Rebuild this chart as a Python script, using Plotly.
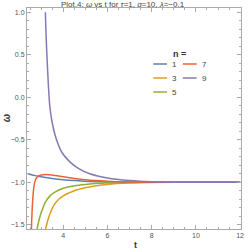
import plotly.graph_objects as go

# n = 1
t1 = [2.40, 2.6, 2.8, 3.0, 3.2, 3.5, 4.0, 4.5, 5.0, 6.0, 7.0, 8.0, 10.0, 12.0]
w1 = [-0.90, -0.915, -0.925, -0.935, -0.943, -0.955, -0.97, -0.98, -0.988, -0.996, -0.999, -1.0, -1.0, -1.0]
# n = 3
t3 = [3.19, 3.3, 3.4, 3.6, 3.8, 4.0, 4.5, 5.0, 5.5, 6.0, 7.0, 8.0, 10.0, 12.0]
w3 = [-1.56, -1.45, -1.37, -1.26, -1.2, -1.16, -1.1, -1.065, -1.04, -1.025, -1.01, -1.003, -1.0, -1.0]
# n = 5
t5 = [2.81, 2.9, 3.0, 3.2, 3.4, 3.6, 4.0, 4.5, 5.0, 6.0, 7.0, 8.0, 10.0, 12.0]
w5 = [-1.56, -1.45, -1.36, -1.23, -1.16, -1.12, -1.07, -1.04, -1.025, -1.01, -1.003, -1.0, -1.0, -1.0]
# n = 7
t7 = [2.56, 2.58, 2.62, 2.66, 2.72, 2.8, 2.9, 3.0, 3.2, 3.5, 4.0, 4.5, 5.0, 6.0, 7.0, 8.0, 10.0, 12.0]
w7 = [-1.56, -1.4, -1.2, -1.08, -0.99, -0.945, -0.925, -0.915, -0.91, -0.915, -0.935, -0.955, -0.97, -0.987, -0.996, -1.0, -1.0, -1.0]
# n = 9
t9 = [3.19, 3.22, 3.26, 3.32, 3.39, 3.5, 3.67, 3.94, 4.3, 4.7, 5.2, 6.0, 7.0, 8.0, 9.0, 10.0, 12.0]
w9 = [1.0, 0.75, 0.5, 0.18, -0.1, -0.3, -0.48, -0.65, -0.76, -0.84, -0.9, -0.95, -0.98, -0.995, -1.0, -1.0, -1.0]

names = ["1", "3", "5", "7", "9"]
colors = ["#5E81B5", "#E19C24", "#8FB032", "#EB6235", "#8778B3"]
ts = [t1, t3, t5, t7, t9]
ws = [w1, w3, w5, w7, w9]

x_ticks = [4, 6, 8, 10, 12]
y_ticks = [1.0, 0.5, 0.0, -0.5, -1.0, -1.5]
y_tick_labels = ["1.0", "0.5", "0.0", "\u22120.5", "\u22121.0", "\u22121.5"]

L, R, T, B = 27, 5, 8, 23
W, H = 249, 252
PW, PH = W - L - R, H - T - B


def px(x):
    return (x - L) / PW


def py(y):
    return (H - B - y) / PH


fig = go.Figure()
for name, t, w, color in zip(names, ts, ws, colors):
    fig.add_trace(go.Scatter(
        x=t, y=w, mode="lines", name=name, showlegend=False,
        line=dict(color=color, width=1.5, shape="spline", smoothing=0.8),
    ))

axis_common = dict(
    showline=True, linecolor="#aaaaaa", linewidth=1, mirror="ticks",
    ticks="inside", ticklen=4, tickcolor="#aaaaaa", tickwidth=1,
    showgrid=False, zeroline=False,
    tickfont=dict(family="Liberation Sans", size=7, color="#555555"),
)

fig.update_xaxes(
    range=[2.36, 12.04], tickvals=x_ticks,
    minor=dict(dtick=0.5, tick0=0, ticks="inside", ticklen=2, tickcolor="#aaaaaa", showgrid=False),
    **axis_common,
)
fig.update_yaxes(
    range=[-1.55, 1.05], tickvals=y_ticks, ticktext=y_tick_labels,
    minor=dict(dtick=0.1, tick0=0, ticks="inside", ticklen=2, tickcolor="#aaaaaa", showgrid=False),
    **axis_common,
)

# manual two-column legend (column-major like the reference)
legend_pos = [(155, 64), (155, 78), (155, 92), (185, 64), (185, 78)]
shapes = []
annotations = []
for (lx, ly), name, color in zip(legend_pos, names, colors):
    shapes.append(dict(type="line", xref="paper", yref="paper",
                       x0=px(lx), x1=px(lx + 14), y0=py(ly), y1=py(ly),
                       line=dict(color=color, width=1.5)))
    annotations.append(dict(text=name, xref="paper", yref="paper",
                            x=px(lx + 17), y=py(ly), xanchor="left", yanchor="middle",
                            showarrow=False,
                            font=dict(family="Liberation Sans", size=8, color="#444444")))

annotations += [
    dict(text="Plot.4: <i>\u03c9</i> vs t for <i>\u03c4</i>=1, <i>\u03b1</i>=10, <i>\u03bb</i>=\u22120.1",
         xref="paper", yref="paper", x=px(124), y=py(4),
         xanchor="center", yanchor="middle", showarrow=False,
         font=dict(family="Liberation Sans", size=8, color="#444444")),
    dict(text="<b>n =</b>", xref="paper", yref="paper",
         x=px(182), y=py(54),
         xanchor="center", yanchor="middle", showarrow=False,
         font=dict(family="Liberation Sans", size=9, color="#333333")),
    dict(text="<b>t</b>", xref="paper", yref="paper",
         x=px(137), y=py(245),
         xanchor="center", yanchor="middle", showarrow=False,
         font=dict(family="Liberation Sans", size=9, color="#333333")),
    dict(text="<b><i>\u03c9</i></b>", xref="paper", yref="paper",
         x=px(6), y=py(118), textangle=-90,
         xanchor="center", yanchor="middle", showarrow=False,
         font=dict(family="Liberation Sans", size=10, color="#333333")),
]

fig.update_layout(
    width=W, height=H,
    margin=dict(l=L, r=R, t=T, b=B),
    plot_bgcolor="white", paper_bgcolor="white",
    shapes=shapes, annotations=annotations,
)

fig.write_html("out.html", config={"displayModeBar": False},
               post_script="document.body.style.margin='0px';document.body.style.overflow='hidden';")
